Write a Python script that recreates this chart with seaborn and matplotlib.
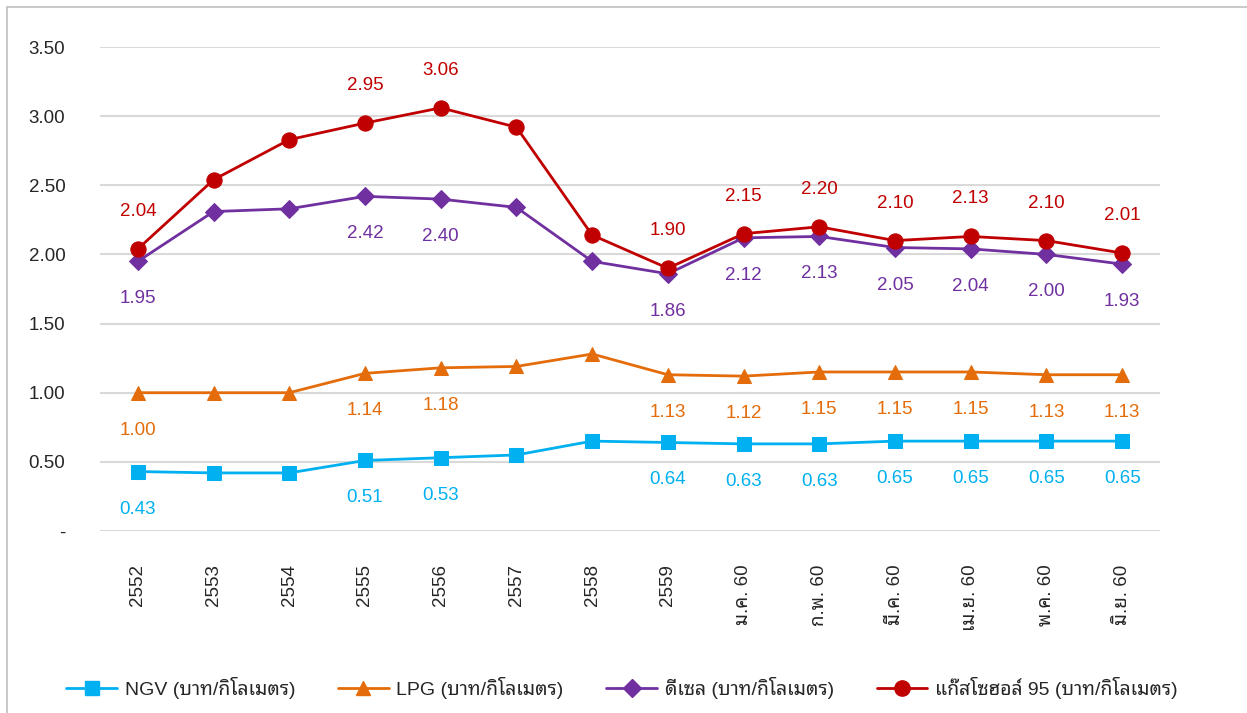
import matplotlib
matplotlib.use("Agg")
import matplotlib.pyplot as plt
import matplotlib.patches as mpatches
import seaborn as sns
import pandas as pd
import numpy as np

categories = ["2552", "2553", "2554", "2555", "2556", "2557", "2558", "2559",
              "ม.ค. 60", "ก.พ. 60", "มี.ค. 60", "เม.ย. 60", "พ.ค. 60", "มิ.ย. 60"]
ngv = [0.43, 0.42, 0.42, 0.51, 0.53, 0.55, 0.65, 0.64, 0.63, 0.63, 0.65, 0.65, 0.65, 0.65]
lpg = [1.00, 1.00, 1.00, 1.14, 1.18, 1.19, 1.28, 1.13, 1.12, 1.15, 1.15, 1.15, 1.13, 1.13]
diesel = [1.95, 2.31, 2.33, 2.42, 2.40, 2.34, 1.95, 1.86, 2.12, 2.13, 2.05, 2.04, 2.00, 1.93]
gasohol95 = [2.04, 2.54, 2.83, 2.95, 3.06, 2.92, 2.14, 1.90, 2.15, 2.20, 2.10, 2.13, 2.10, 2.01]
labelled_idx = [0, 3, 4, 7, 8, 9, 10, 11, 12, 13]
series_names = ["NGV (บาท/กิโลเมตร)", "LPG (บาท/กิโลเมตร)",
                "ดีเซล (บาท/กิโลเมตร)", "แก๊สโซฮอล์ 95 (บาท/กิโลเมตร)"]
ytick_vals = [0, 0.5, 1.0, 1.5, 2.0, 2.5, 3.0, 3.5]
ytick_labels = ["-", "0.50", "1.00", "1.50", "2.00", "2.50", "3.00", "3.50"]

sns.set_style("white")
fams = ["Liberation Sans", "Noto Sans Thai Looped", "Noto Sans Thai", "Sarabun", "DejaVu Sans"]
plt.rcParams["font.family"] = fams

fig = plt.figure(figsize=(12.47, 7.13), dpi=100)
ax = fig.add_axes([100/1247, 1-531/713, 1060/1247, 484/713])

styles = [
    dict(values=ngv, color="#00b0f0", marker="s", ms=10, txt="#00b0f0", pos="below"),
    dict(values=lpg, color="#e46c0a", marker="^", ms=10, txt="#e46c0a", pos="below"),
    dict(values=diesel, color="#7030a0", marker="D", ms=9, txt="#7030a0", pos="below"),
    dict(values=gasohol95, color="#c00000", marker="o", ms=11, txt="#c00000", pos="above"),
]

x = np.arange(len(categories))
handles = []
for name, st in zip(series_names, styles):
    df = pd.DataFrame({"x": x, "y": st["values"]})
    sns.lineplot(data=df, x="x", y="y", ax=ax, color=st["color"], marker=st["marker"],
                 markersize=st["ms"], markeredgecolor=st["color"], linewidth=2.0,
                 zorder=3)
    handles.append(plt.Line2D([], [], color=st["color"], marker=st["marker"],
                              markersize=st["ms"], markeredgecolor=st["color"],
                              linewidth=2.0, label=name))
    off = 27 if st["pos"] == "above" else -27
    for i in labelled_idx:
        ax.annotate(f"{st['values'][i]:.2f}", (x[i], st["values"][i]),
                    xytext=(0, off), textcoords="offset points",
                    ha="center", va="center", fontsize=13.5, color=st["txt"])

ax.set_xlim(-0.5, len(categories) - 0.5)
ax.set_ylim(0, 3.5)
ax.set_yticks(ytick_vals)
ax.set_yticklabels(ytick_labels, fontsize=13.5, color="#262626")
ax.set_xticks(x)
ax.set_xticklabels(categories, rotation=90, fontsize=13.5, color="#262626",
                   ha="center", va="top")
ax.tick_params(axis="y", length=0, pad=25)
ax.tick_params(axis="x", length=0, pad=24)
ax.set_xlabel("")
ax.set_ylabel("")
ax.grid(axis="y", color="#d9d9d9", linewidth=1.5)
ax.set_axisbelow(True)
for s in ax.spines.values():
    s.set_visible(False)

fig.legend(handles=handles, loc="center", bbox_to_anchor=(622/1247, 1-688/713),
           ncol=4, frameon=False, fontsize=14, handlelength=2.6,
           columnspacing=2.2, handletextpad=0.4)

fig.patches.append(mpatches.Rectangle((7/1247, -0.1), 1.2, 1 - 7/713 + 0.1,
                                      transform=fig.transFigure, fill=False,
                                      edgecolor="#bfbfbf", linewidth=1.2))

fig.savefig("out.png", dpi=100)
